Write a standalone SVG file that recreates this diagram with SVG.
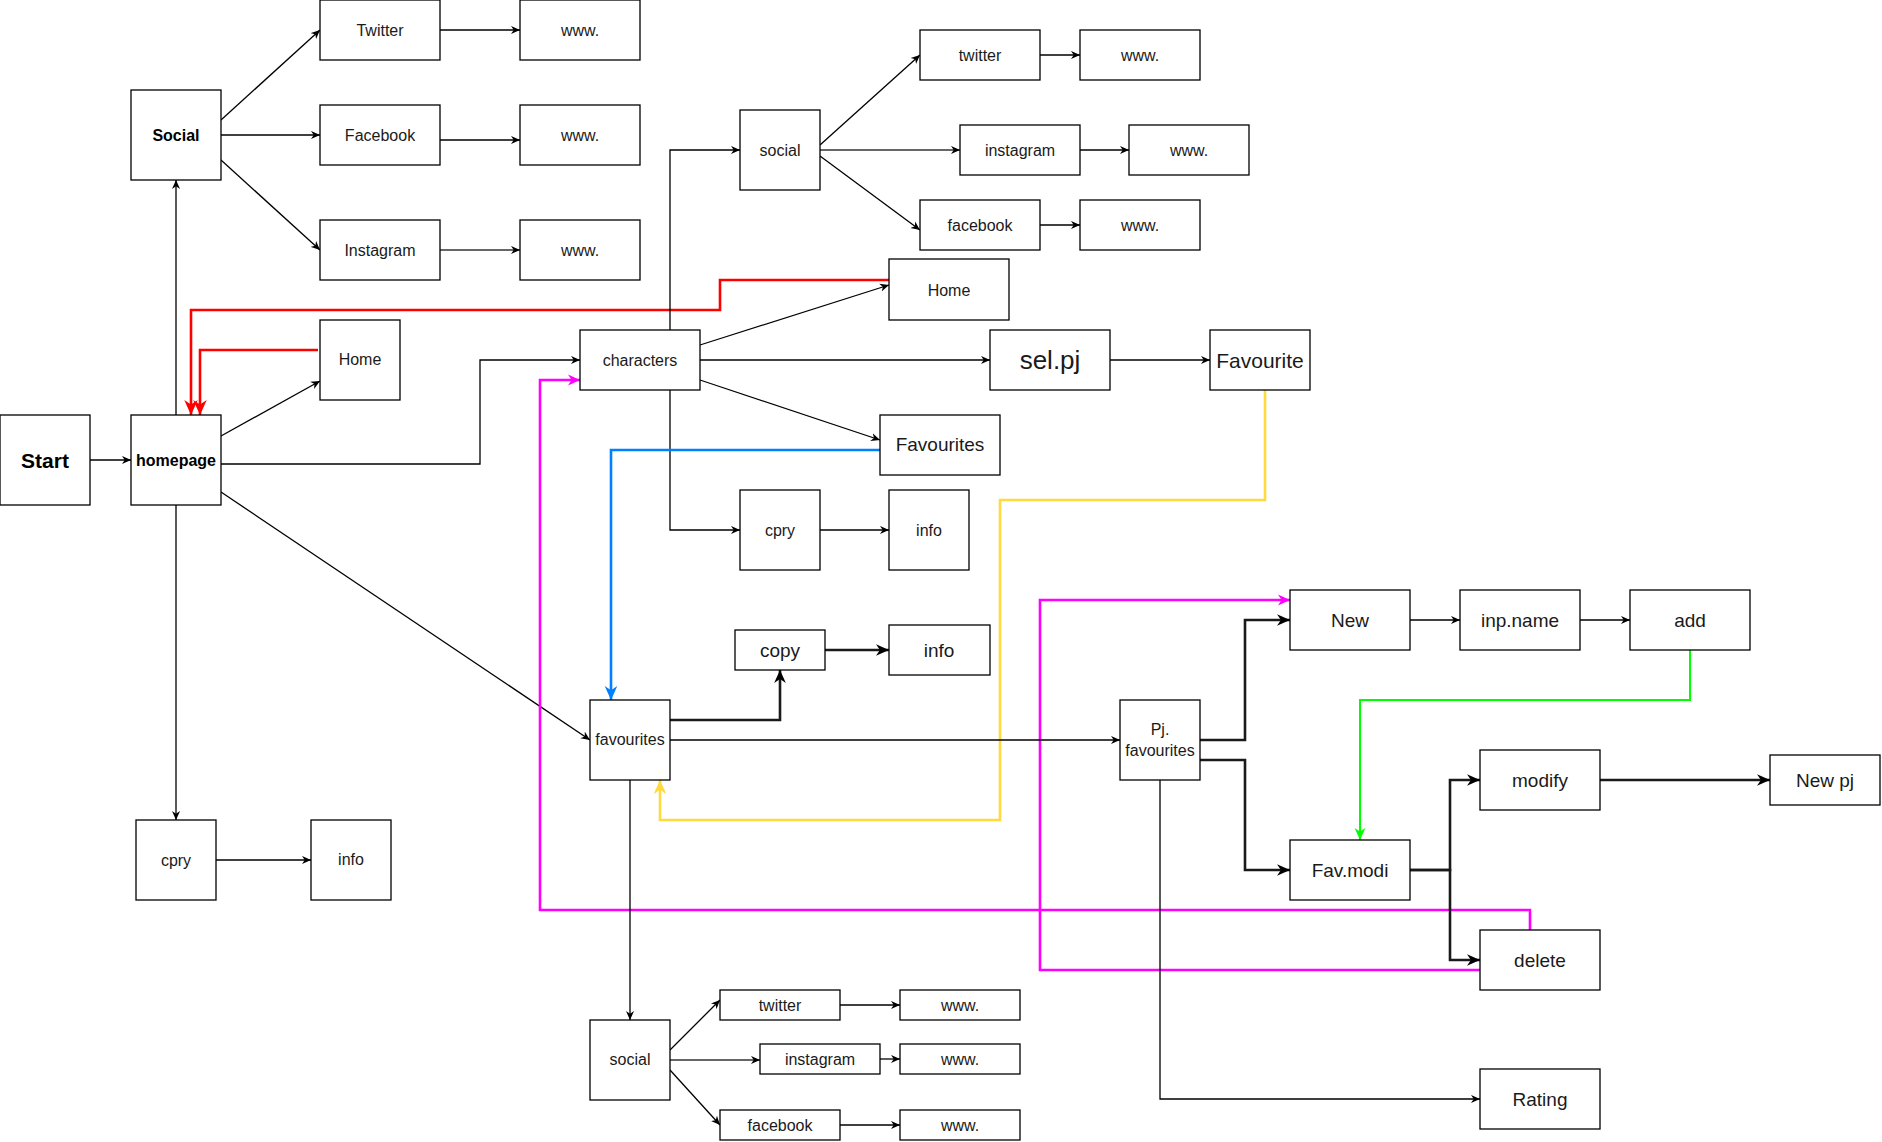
<svg xmlns="http://www.w3.org/2000/svg" width="1882" height="1142" viewBox="0 0 1882 1142">
<style>
.n rect{fill:#fff;stroke:#000;stroke-width:1.3}
.n text{font-family:"Liberation Sans",Arial,sans-serif;font-size:16px;fill:#1a1a1a;text-anchor:middle;dominant-baseline:central}
.n .b{font-weight:bold;fill:#000}
.n .l{font-size:19px}
.n .xl{font-size:26px}
.c path{fill:none;stroke:#000;stroke-width:1.3}
.c .t{stroke-width:2.6;stroke:#1a1a1a}
.c .g{stroke:#666;stroke-width:2}
.c .red{stroke:#f00;stroke-width:2.6}
.c .blu{stroke:#007fff;stroke-width:2.6}
.c .yel{stroke:#ffd93d;stroke-width:2.6}
.c .mag{stroke:#f0f;stroke-width:2.6}
.c .grn{stroke:#0f0;stroke-width:2}
</style>
<defs>
<marker id="a" viewBox="0 0 10 10" refX="10" refY="5" markerWidth="9" markerHeight="9" markerUnits="userSpaceOnUse" orient="auto"><path d="M0,0.5 L10,5 L0,9.5 L3,5 z" fill="#000"/></marker>
<marker id="at" viewBox="0 0 10 10" refX="10" refY="5" markerWidth="13" markerHeight="13" markerUnits="userSpaceOnUse" orient="auto"><path d="M0,0.5 L10,5 L0,9.5 L3,5 z" fill="#000"/></marker>
<marker id="ar" viewBox="0 0 10 10" refX="10" refY="5" markerWidth="15" markerHeight="15" markerUnits="userSpaceOnUse" orient="auto"><path d="M0,0.5 L10,5 L0,9.5 L3,5 z" fill="#f00"/></marker>
<marker id="ab" viewBox="0 0 10 10" refX="10" refY="5" markerWidth="14" markerHeight="14" markerUnits="userSpaceOnUse" orient="auto"><path d="M0,0.5 L10,5 L0,9.5 L3,5 z" fill="#007fff"/></marker>
<marker id="ay" viewBox="0 0 10 10" refX="10" refY="5" markerWidth="14" markerHeight="14" markerUnits="userSpaceOnUse" orient="auto"><path d="M0,0.5 L10,5 L0,9.5 L3,5 z" fill="#ffd93d"/></marker>
<marker id="am" viewBox="0 0 10 10" refX="10" refY="5" markerWidth="12" markerHeight="12" markerUnits="userSpaceOnUse" orient="auto"><path d="M0,0.5 L10,5 L0,9.5 L3,5 z" fill="#f0f"/></marker>
<marker id="ag" viewBox="0 0 10 10" refX="10" refY="5" markerWidth="12" markerHeight="12" markerUnits="userSpaceOnUse" orient="auto"><path d="M0,0.5 L10,5 L0,9.5 L3,5 z" fill="#0f0"/></marker>
</defs>
<rect width="1882" height="1142" fill="#fff"/>

<g id="connectors" class="c">
<path d="M90,460 L131,460" marker-end="url(#a)"/>
<path d="M176,415 L176,180" marker-end="url(#a)"/>
<path d="M221,120 L320,30" marker-end="url(#a)"/>
<path d="M221,135 L320,135" marker-end="url(#a)"/>
<path d="M221,160 L320,250" marker-end="url(#a)"/>
<path d="M440,30 L520,30" marker-end="url(#a)"/>
<path d="M440,140 L520,140" marker-end="url(#a)"/>
<path class="g" d="M440,250 L520,250" marker-end="url(#a)"/>
<path d="M221,436 L320,381" marker-end="url(#a)"/>
<path d="M221,464 L480,464 L480,360 L580,360" marker-end="url(#a)"/>
<path d="M221,492 L590,740" marker-end="url(#a)"/>
<path d="M176,505 L176,820" marker-end="url(#a)"/>
<path d="M216,860 L311,860" marker-end="url(#a)"/>
<path class="red" d="M889,280 L720,280 L720,310 L191,310 L191,415" marker-end="url(#ar)"/>
<path class="red" d="M318,350 L200,350 L200,415" marker-end="url(#ar)"/>
<path d="M670,330 L670,150 L740,150" marker-end="url(#a)"/>
<path d="M700,345 L889,285" marker-end="url(#a)"/>
<path d="M700,360 L990,360" marker-end="url(#a)"/>
<path d="M1110,360 L1210,360" marker-end="url(#a)"/>
<path d="M700,380 L880,440" marker-end="url(#a)"/>
<path d="M670,390 L670,530 L740,530" marker-end="url(#a)"/>
<path d="M820,530 L889,530" marker-end="url(#a)"/>
<path d="M820,145 L920,55" marker-end="url(#a)"/>
<path class="g" d="M820,150 L960,150" marker-end="url(#a)"/>
<path d="M820,156 L920,230" marker-end="url(#a)"/>
<path d="M1040,55 L1080,55" marker-end="url(#a)"/>
<path d="M1080,150 L1129,150" marker-end="url(#a)"/>
<path d="M1040,225 L1080,225" marker-end="url(#a)"/>
<path class="blu" d="M880,450 L611,450 L611,700" marker-end="url(#ab)"/>
<path class="yel" d="M1265,390 L1265,500 L1000,500 L1000,820 L660,820 L660,780" marker-end="url(#ay)"/>
<path class="mag" d="M1530,930 L1530,910 L540,910 L540,380 L580,380" marker-end="url(#am)"/>
<path class="mag" d="M1480,970 L1040,970 L1040,600 L1290,600" marker-end="url(#am)"/>
<path class="t" d="M670,720 L780,720 L780,670" marker-end="url(#at)"/>
<path class="t" d="M825,650 L889,650" marker-end="url(#at)"/>
<path d="M670,740 L1120,740" marker-end="url(#a)"/>
<path d="M630,780 L630,1020" marker-end="url(#a)"/>
<path d="M670,1050 L720,1000" marker-end="url(#a)"/>
<path class="g" d="M670,1060 L760,1060" marker-end="url(#a)"/>
<path d="M670,1070 L720,1125" marker-end="url(#a)"/>
<path d="M840,1005 L900,1005" marker-end="url(#a)"/>
<path d="M880,1059 L900,1059" marker-end="url(#a)"/>
<path d="M840,1125 L900,1125" marker-end="url(#a)"/>
<path class="t" d="M1200,740 L1245,740 L1245,620 L1290,620" marker-end="url(#at)"/>
<path class="t" d="M1200,760 L1245,760 L1245,870 L1290,870" marker-end="url(#at)"/>
<path d="M1160,780 L1160,1099 L1480,1099" marker-end="url(#a)"/>
<path d="M1410,620 L1460,620" marker-end="url(#a)"/>
<path d="M1580,620 L1630,620" marker-end="url(#a)"/>
<path class="grn" d="M1690,650 L1690,700 L1360,700 L1360,840" marker-end="url(#ag)"/>
<path class="t" d="M1410,870 L1450,870 L1450,780 L1480,780" marker-end="url(#at)"/>
<path class="t" d="M1410,870 L1450,870 L1450,960 L1480,960" marker-end="url(#at)"/>
<path class="t" d="M1600,780 L1770,780" marker-end="url(#at)"/>
</g>

<g id="start" class="n"><rect x="0" y="415" width="90" height="90"/><text class="b" x="45" y="460" style="font-size:21px">Start</text></g>
<g id="homepage" class="n"><rect x="131" y="415" width="90" height="90"/><text class="b" x="176" y="460">homepage</text></g>
<g id="social-main" class="n"><rect x="131" y="90" width="90" height="90"/><text class="b" x="176" y="135">Social</text></g>
<g id="twitter-main" class="n"><rect x="320" y="0" width="120" height="60"/><text x="380" y="30">Twitter</text></g>
<g id="www-1" class="n"><rect x="520" y="0" width="120" height="60"/><text x="580" y="30">www.</text></g>
<g id="facebook-main" class="n"><rect x="320" y="105" width="120" height="60"/><text x="380" y="135">Facebook</text></g>
<g id="www-2" class="n"><rect x="520" y="105" width="120" height="60"/><text x="580" y="135">www.</text></g>
<g id="instagram-main" class="n"><rect x="320" y="220" width="120" height="60"/><text x="380" y="250">Instagram</text></g>
<g id="www-3" class="n"><rect x="520" y="220" width="120" height="60"/><text x="580" y="250">www.</text></g>
<g id="home-left" class="n"><rect x="320" y="320" width="80" height="80"/><text x="360" y="359">Home</text></g>
<g id="cpry-left" class="n"><rect x="136" y="820" width="80" height="80"/><text x="176" y="860">cpry</text></g>
<g id="info-left" class="n"><rect x="311" y="820" width="80" height="80"/><text x="351" y="859">info</text></g>
<g id="characters" class="n"><rect x="580" y="330" width="120" height="60"/><text x="640" y="360">characters</text></g>
<g id="social-top" class="n"><rect x="740" y="110" width="80" height="80"/><text x="780" y="150">social</text></g>
<g id="twitter-top" class="n"><rect x="920" y="30" width="120" height="50"/><text x="980" y="55">twitter</text></g>
<g id="www-4" class="n"><rect x="1080" y="30" width="120" height="50"/><text x="1140" y="55">www.</text></g>
<g id="instagram-top" class="n"><rect x="960" y="125" width="120" height="50"/><text x="1020" y="150">instagram</text></g>
<g id="www-5" class="n"><rect x="1129" y="125" width="120" height="50"/><text x="1189" y="150">www.</text></g>
<g id="facebook-top" class="n"><rect x="920" y="200" width="120" height="50"/><text x="980" y="225">facebook</text></g>
<g id="www-6" class="n"><rect x="1080" y="200" width="120" height="50"/><text x="1140" y="225">www.</text></g>
<g id="home-mid" class="n"><rect x="889" y="259" width="120" height="61"/><text x="949" y="290">Home</text></g>
<g id="selpj" class="n"><rect x="990" y="330" width="120" height="60"/><text class="xl" x="1050" y="360">sel.pj</text></g>
<g id="favourite" class="n"><rect x="1210" y="330" width="100" height="60"/><text x="1260" y="360" style="font-size:21px">Favourite</text></g>
<g id="favourites-mid" class="n"><rect x="880" y="415" width="120" height="60"/><text class="l" x="940" y="444">Favourites</text></g>
<g id="cpry-mid" class="n"><rect x="740" y="490" width="80" height="80"/><text x="780" y="530">cpry</text></g>
<g id="info-mid" class="n"><rect x="889" y="490" width="80" height="80"/><text x="929" y="530">info</text></g>
<g id="copy" class="n"><rect x="735" y="630" width="90" height="40"/><text class="l" x="780" y="650">copy</text></g>
<g id="info-copy" class="n"><rect x="889" y="625" width="101" height="50"/><text class="l" x="939" y="650">info</text></g>
<g id="favourites" class="n"><rect x="590" y="700" width="80" height="80"/><text x="630" y="739">favourites</text></g>
<g id="pj-favourites" class="n"><rect x="1120" y="700" width="80" height="80"/><text x="1160" y="729">Pj.</text><text x="1160" y="750">favourites</text></g>
<g id="new" class="n"><rect x="1290" y="590" width="120" height="60"/><text class="l" x="1350" y="620">New</text></g>
<g id="inp-name" class="n"><rect x="1460" y="590" width="120" height="60"/><text class="l" x="1520" y="620">inp.name</text></g>
<g id="add" class="n"><rect x="1630" y="590" width="120" height="60"/><text class="l" x="1690" y="620">add</text></g>
<g id="modify" class="n"><rect x="1480" y="750" width="120" height="60"/><text class="l" x="1540" y="780">modify</text></g>
<g id="new-pj" class="n"><rect x="1770" y="755" width="110" height="50"/><text class="l" x="1825" y="780">New pj</text></g>
<g id="fav-modi" class="n"><rect x="1290" y="840" width="120" height="60"/><text class="l" x="1350" y="870">Fav.modi</text></g>
<g id="delete" class="n"><rect x="1480" y="930" width="120" height="60"/><text class="l" x="1540" y="960">delete</text></g>
<g id="rating" class="n"><rect x="1480" y="1069" width="120" height="60"/><text class="l" x="1540" y="1099">Rating</text></g>
<g id="social-bottom" class="n"><rect x="590" y="1020" width="80" height="80"/><text x="630" y="1059">social</text></g>
<g id="twitter-bottom" class="n"><rect x="720" y="990" width="120" height="30"/><text x="780" y="1005">twitter</text></g>
<g id="www-7" class="n"><rect x="900" y="990" width="120" height="30"/><text x="960" y="1005">www.</text></g>
<g id="instagram-bottom" class="n"><rect x="760" y="1044" width="120" height="30"/><text x="820" y="1059">instagram</text></g>
<g id="www-8" class="n"><rect x="900" y="1044" width="120" height="30"/><text x="960" y="1059">www.</text></g>
<g id="facebook-bottom" class="n"><rect x="720" y="1110" width="120" height="30"/><text x="780" y="1125">facebook</text></g>
<g id="www-9" class="n"><rect x="900" y="1110" width="120" height="30"/><text x="960" y="1125">www.</text></g>
</svg>
